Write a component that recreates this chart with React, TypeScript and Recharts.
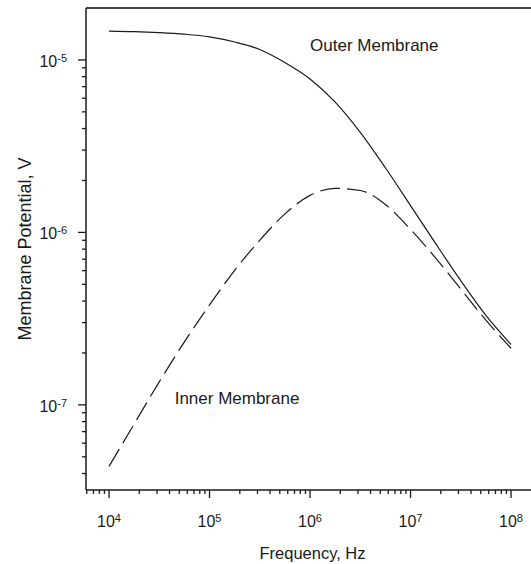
import React from 'react';
import { LineChart, Line, XAxis, YAxis, ReferenceLine, ReferenceDot } from 'recharts';

// frequency points, Hz (quarter-decade steps)
const frequency = [
  1e4, 1.78e4, 3.16e4, 5.62e4,
  1e5, 1.78e5, 3.16e5, 5.62e5,
  1e6, 1.78e6, 3.16e6, 5.62e6,
  1e7, 1.78e7, 3.16e7, 5.62e7,
  1e8,
];

// membrane potentials, V
const outerMembrane = [
  1.47e-5, 1.46e-5, 1.44e-5, 1.41e-5,
  1.36e-5, 1.27e-5, 1.15e-5, 9.66e-6,
  7.76e-6, 5.69e-6, 3.8e-6, 2.37e-6,
  1.43e-6, 8.6e-7, 5.25e-7, 3.3e-7,
  2.24e-7,
];
const innerMembrane = [
  4.4e-8, 7.76e-8, 1.36e-7, 2.32e-7,
  3.8e-7, 6.03e-7, 9.0e-7, 1.28e-6,
  1.64e-6, 1.8e-6, 1.75e-6, 1.45e-6,
  1.04e-6, 7.1e-7, 4.7e-7, 3.1e-7,
  2.13e-7,
];

const X_DOMAIN: [number, number] = [5900, 1.58e8];
const Y_DOMAIN: [number, number] = [3.21e-8, 2.0e-5];

const data = frequency.map((f, i) => ({ f, outer: outerMembrane[i], inner: innerMembrane[i] }));

// minor ticks at 1..9 x each decade, kept within the domain
const buildTicks = (domain: [number, number]) => {
  const out: number[] = [];
  const lo = Math.floor(Math.log10(domain[0]));
  const hi = Math.ceil(Math.log10(domain[1]));
  for (let e = lo; e <= hi; e++) {
    for (let m = 1; m <= 9; m++) {
      const v = Number((m * Math.pow(10, e)).toPrecision(3));
      if (v >= domain[0] && v < domain[1]) out.push(v);
    }
  }
  return out;
};
const xTicks = buildTicks(X_DOMAIN);
const yTicks = buildTicks(Y_DOMAIN);

const FONT = 'Arial, "Liberation Sans", Helvetica, sans-serif';
const INK = '#1a1a1a';

const isDecade = (v: number) => Math.abs(Math.log10(v) - Math.round(Math.log10(v))) < 1e-6;

const XTick = (props: any) => {
  const { x, y, payload } = props;
  const v = payload.value;
  const major = isDecade(v);
  const exp = Math.round(Math.log10(v));
  return (
    <g>
      <line x1={x} y1={y} x2={x} y2={y + (major ? 8 : 4)} stroke={INK} strokeWidth={1.3} />
      {major && (
        <text x={x} y={y + 37} textAnchor="middle" fontFamily={FONT} fill={INK}>
          <tspan fontSize={16}>10</tspan>
          <tspan fontSize={11} dy={-5}>{exp}</tspan>
        </text>
      )}
    </g>
  );
};

const YTick = (props: any) => {
  const { x, y, payload } = props;
  const v = payload.value;
  const major = isDecade(v);
  const exp = Math.round(Math.log10(v));
  return (
    <g>
      <line x1={x} y1={y} x2={x - (major ? 8 : 4)} y2={y} stroke={INK} strokeWidth={1.3} />
      {major && (
        <text x={x - 19} y={y + 7} textAnchor="end" fontFamily={FONT} fill={INK}>
          <tspan fontSize={16}>10</tspan>
          <tspan fontSize={11} dy={-5}>{exp}</tspan>
        </text>
      )}
    </g>
  );
};

const annotation = (text: string) => (props: any) => (
  <text x={props.cx} y={props.cy + 6} fontFamily={FONT} fontSize={17} fill={INK}>
    {text}
  </text>
);

export default function App() {
  return (
    <div style={{ position: 'absolute', left: 0, top: 0, background: '#fff' }}>
      <LineChart width={531} height={564} data={data} margin={{ top: 8, right: 0, bottom: 0, left: 0 }}>
        <XAxis
          dataKey="f"
          type="number"
          scale="log"
          domain={X_DOMAIN}
          allowDataOverflow
          ticks={xTicks}
          interval={0}
          tick={<XTick />}
          tickLine={false}
          tickSize={0}
          tickMargin={0}
          height={74}
          axisLine={{ stroke: INK, strokeWidth: 1.5 }}
          label={{
            content: (p: any) => (
              <text
                x={p.viewBox.x + p.viewBox.width / 2 + 4}
                y={p.viewBox.y + 69}
                textAnchor="middle"
                fontFamily={FONT}
                fontSize={16.5}
                fill={INK}
              >
                Frequency, Hz
              </text>
            ),
          }}
        />
        <YAxis
          type="number"
          scale="log"
          domain={Y_DOMAIN}
          allowDataOverflow
          ticks={yTicks}
          interval={0}
          tick={<YTick />}
          tickLine={false}
          tickSize={0}
          tickMargin={0}
          width={86}
          axisLine={{ stroke: INK, strokeWidth: 1.5 }}
          label={{
            content: (p: any) => {
              const cx = 31;
              const cy = p.viewBox.y + p.viewBox.height / 2;
              return (
                <text
                  x={cx}
                  y={cy}
                  textAnchor="middle"
                  transform={`rotate(-90, ${cx}, ${cy})`}
                  fontFamily={FONT}
                  fontSize={18}
                  fill={INK}
                >
                  Membrane Potential, V
                </text>
              );
            },
          }}
        />
        <ReferenceLine y={Y_DOMAIN[1]} stroke="#444" strokeWidth={2} ifOverflow="visible" />
        <Line dataKey="outer" type="monotone" stroke={INK} strokeWidth={1.2} dot={false} isAnimationActive={false} />
        <Line
          dataKey="inner"
          type="monotone"
          stroke={INK}
          strokeWidth={1.2}
          strokeDasharray="20 7"
          dot={false}
          isAnimationActive={false}
        />
        <ReferenceDot x={1e6} y={1.22e-5} shape={annotation('Outer Membrane')} ifOverflow="visible" />
        <ReferenceDot x={4.5e4} y={1.1e-7} shape={annotation('Inner Membrane')} ifOverflow="visible" />
      </LineChart>
    </div>
  );
}
